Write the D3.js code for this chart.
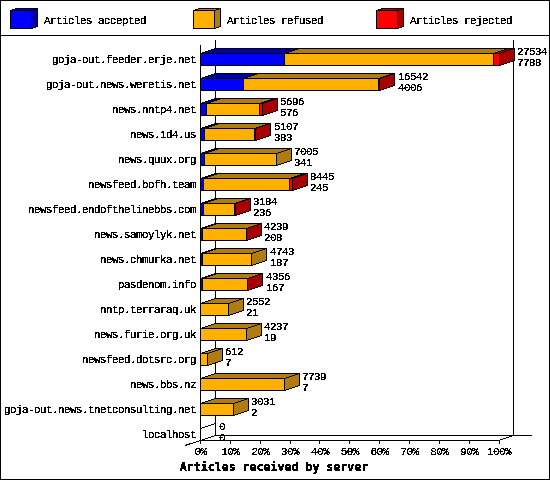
<!DOCTYPE html>
<html>
<head>
<meta charset="utf-8">
<script src="https://cdn.jsdelivr.net/npm/d3@7"></script>
<style>
body { margin: 0; background: #fff; }
svg { display: block; }
text { font-family: "Liberation Mono", monospace; font-size: 11px; letter-spacing: -0.6px; fill: #000; }
</style>
</head>
<body>
<div id="chart"></div>
<script>
var hosts = ["goja-out.feeder.erje.net", "goja-out.news.weretis.net", "news.nntp4.net", "news.1d4.us",
	"news.quux.org", "newsfeed.bofh.team", "newsfeed.endofthelinebbs.com", "news.samoylyk.net",
	"news.chmurka.net", "pasdenom.info", "nntp.terraraq.uk", "news.furie.org.uk",
	"newsfeed.dotsrc.org", "news.bbs.nz", "goja-out.news.tnetconsulting.net", "localhost"];
var totals = [27534, 16542, 5696, 5107, 7005, 8445, 3184, 4239, 4743, 4356, 2552, 4237, 612, 7739, 3031, 0];
var accepted = [7788, 4006, 576, 383, 341, 245, 236, 208, 187, 167, 21, 19, 7, 7, 2, 0];
// not printed on the chart, read from the width of the red parts
var rejected = [470, 140, 220, 170, 0, 280, 40, 40, 0, 40, 0, 0, 0, 0, 0, 0];
var percents = [0, 10, 20, 30, 40, 50, 60, 70, 80, 90, 100];
var legendNames = ["Articles accepted", "Articles refused", "Articles rejected"];
var fills = ["#0000ff", "#ffb000", "#ff0000"];
var darks = ["#0000a8", "#b07c10", "#a80000"];

var width = 550, height = 480;
var left = 200, right = 498.5, depthX = 15, depthY = 5;
var barHeight = 12;

var svg = d3.select("#chart").append("svg")
	.attr("width", width)
	.attr("height", height)
	.attr("shape-rendering", "crispEdges");

// the original is a bitmap, so no grey edges on the text
var filter = svg.append("filter")
	.attr("id", "hard")
	.attr("filterUnits", "userSpaceOnUse")
	.attr("x", 0).attr("y", 0).attr("width", width).attr("height", height)
	.attr("color-interpolation-filters", "sRGB");
filter.append("feComponentTransfer")
	.append("feFuncA")
	.attr("type", "discrete")
	.attr("tableValues", "0 0 1 1 1 1 1 1");

var x = d3.scaleLinear().domain([0, d3.max(totals)]).range([left, right]);
var xPercent = d3.scaleLinear().domain([0, 100]).range([left, right]);
var y = d3.scaleBand().domain(hosts).range([47, 447]);

function line(parent, x1, y1, x2, y2) {
	parent.append("line")
		.attr("x1", x1).attr("y1", y1).attr("x2", x2).attr("y2", y2)
		.attr("stroke", "#000");
}

function box(parent, x0, x1, y0, y1, dx, dy, fill, dark) {
	var g = parent.append("g").attr("stroke", "#000").attr("stroke-linejoin", "miter");
	g.append("polygon")
		.attr("points", [[x0, y0], [x0 + dx, y0 - dy], [x1 + dx, y0 - dy], [x1, y0]].join(" "))
		.attr("fill", dark);
	g.append("polygon")
		.attr("points", [[x1, y0], [x1 + dx, y0 - dy], [x1 + dx, y1 - dy], [x1, y1]].join(" "))
		.attr("fill", dark);
	g.append("rect")
		.attr("x", x0).attr("y", y0)
		.attr("width", x1 - x0).attr("height", y1 - y0)
		.attr("fill", fill);
}

svg.append("rect")
	.attr("x", 0.5).attr("y", 0.5)
	.attr("width", width - 1).attr("height", height - 1)
	.attr("fill", "#fff").attr("stroke", "#000");
line(svg, 0, 35.5, width, 35.5);

// legend
var legendX = d3.scalePoint().domain(legendNames).range([10.5, 376.5]);
var texts = svg.append("g").attr("filter", "url(#hard)");
legendNames.forEach(function (name, i) {
	var lx = legendX(name);
	box(svg, lx, lx + 21, 10.5, 28.5, 6, 2, fills[i], darks[i]);
	texts.append("text").attr("x", Math.round(lx + 33.5)).attr("y", 24).text(name);
});

// frame behind the bars
var bottom = 440.5;
line(svg, left + 0.5, 45, left + 0.5, bottom);
line(svg, left + depthX + 0.5, 40, left + depthX + 0.5, bottom - depthY);
line(svg, 513.5, 40, 513.5, bottom - depthY);
line(svg, left + depthX, bottom - depthY, 532, bottom - depthY);
line(svg, left - depthX, bottom + depthY, left + depthX + 0.5, bottom - depthY);
line(svg, right, bottom, 513.5, bottom - depthY);

var axisBottom = d3.axisBottom(xPercent)
	.tickValues(percents)
	.tickSize(4)
	.tickSizeOuter(0)
	.tickPadding(3)
	.tickFormat(function (d) { return d + "%"; });
svg.append("g").attr("transform", "translate(0," + (bottom - 0.5) + ")").call(axisBottom)
	.call(function (g) { g.selectAll("text").remove(); });
var axisLabels = texts.append("g").attr("transform", "translate(0," + (bottom - 0.5) + ")").call(axisBottom)
	.attr("font-size", null).attr("font-family", null);
axisLabels.selectAll("path,line").remove();

var axisLeft = d3.axisLeft(y).tickSize(0).tickPadding(4);
var hostLabels = texts.append("g").attr("transform", "translate(200,0)").call(axisLeft)
	.attr("font-size", null).attr("font-family", null);
hostLabels.selectAll("path,line").remove();

// bars
hosts.forEach(function (host, i) {
	var y0 = y(host) + 6.5, y1 = y0 + barHeight;
	var parts = [accepted[i], totals[i] - accepted[i] - rejected[i], rejected[i]];
	var start = 0;
	if (totals[i] === 0) {
		box(svg, left + 0.5, left + 0.5, y0, y1, depthX, depthY, "none", "none");
	}
	parts.forEach(function (v, k) {
		if (v > 0) {
			var x0 = Math.round(x(start)) + 0.5, x1 = Math.round(x(start + v)) + 0.5;
			box(svg, x0, x1, y0, y1, depthX, depthY, fills[k], darks[k]);
		}
		start += v;
	});
	var labelX = Math.round(x(totals[i]) + depthX + 3.5);
	texts.append("text").attr("x", labelX).attr("y", Math.round(y0 + 1)).text(totals[i]);
	texts.append("text").attr("x", labelX).attr("y", Math.round(y0 + 12)).text(accepted[i]);
});

texts.append("text")
	.attr("x", 274).attr("y", 471)
	.attr("text-anchor", "middle")
	.style("font-weight", "bold")
	.style("font-size", "11.6px")
	.style("font-family", "'DejaVu Sans Mono', monospace")
	.style("letter-spacing", "0")
	.text("Articles received by server");
</script>
</body>
</html>
